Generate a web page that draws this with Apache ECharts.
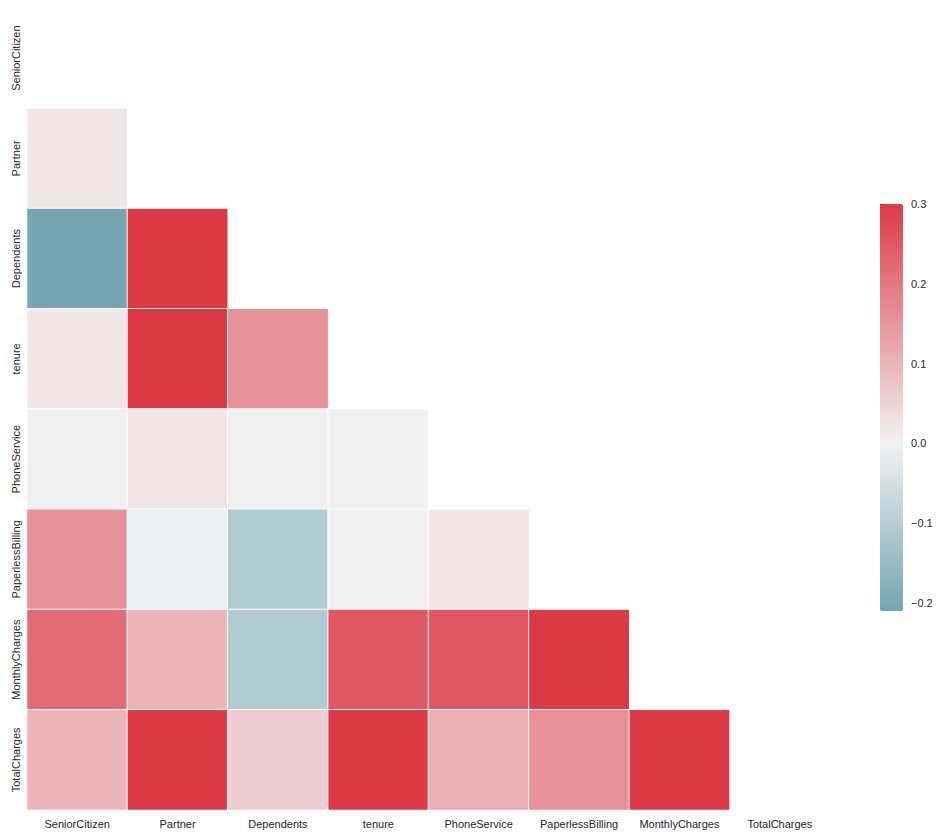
<!DOCTYPE html>
<html>
<head>
<meta charset="utf-8">
<script src="https://cdn.jsdelivr.net/npm/echarts@6/dist/echarts.min.js"></script>
<style>html,body{margin:0;background:#fff}#main{width:939px;height:837px}</style>
</head>
<body>
<div id="main"></div>
<script>
let labels = ["SeniorCitizen", "Partner", "Dependents", "tenure", "PhoneService", "PaperlessBilling", "MonthlyCharges", "TotalCharges"];
// lower triangle, row by row (row i has i values)
let rows = [
  [],
  [0.02],
  [-0.21, 0.45],
  [0.02, 0.38, 0.16],
  [0.00, 0.02, -0.00, 0.00],
  [0.16, -0.01, -0.11, 0.00, 0.02],
  [0.22, 0.10, -0.11, 0.25, 0.25, 0.35],
  [0.10, 0.32, 0.06, 0.83, 0.11, 0.16, 0.65],
];
let cbTicks = [-0.2, -0.1, 0.0, 0.1, 0.2, 0.3];

let vmin = -0.21, vmax = 0.3;

// colour map: blue -> grey (center 0) -> red, over [-0.3, 0.3]
let cBlue = [63, 132, 152], cMid = [242, 242, 242], cRed = [220, 58, 71];
let cmap = (v) => {
  let t = Math.max(-1, Math.min(1, v / 0.3));
  let a = t < 0 ? cBlue : cRed, f = Math.abs(t);
  let c = cMid.map((m, k) => Math.round(m + f * (a[k] - m)));
  return `rgb(${c.join(",")})`;
};
let stops = [];
for (let i = 0; i <= 60; i++) stops.push(cmap(vmin + (vmax - vmin) * i / 60));

let data = [];
rows.forEach((r, i) => r.forEach((v, j) => data.push([j, i, v])));

let chart = echarts.init(document.getElementById("main"), null, { renderer: "svg" });
let font = "Liberation Sans, Arial, sans-serif";
chart.setOption({
  animation: false,
  textStyle: { fontFamily: font },
  grid: [
    { left: 27, right: 109, top: 8, bottom: 27 },
    { left: 880, width: 23, top: 204, height: 407 },
  ],
  xAxis: [
    { type: "category", data: labels, gridIndex: 0, axisLine: { show: false }, axisTick: { show: false },
      axisLabel: { color: "#262626", fontSize: 11, interval: 0 }, splitLine: { show: false } },
    { type: "value", gridIndex: 1, show: false },
  ],
  yAxis: [
    { type: "category", data: labels, gridIndex: 0, inverse: true, axisLine: { show: false }, axisTick: { show: false },
      axisLabel: { color: "#262626", fontSize: 11, rotate: 90, interval: 0, margin: 6 }, splitLine: { show: false } },
    { type: "value", gridIndex: 1, position: "right", min: vmin, max: vmax,
      axisLine: { show: false }, splitLine: { show: false },
      axisTick: { show: true, length: 4, lineStyle: { color: "#262626" }, customValues: cbTicks },
      axisLabel: { color: "#262626", fontSize: 11, customValues: cbTicks, formatter: (v) => v.toFixed(1).replace("-", "\u2212") } },
  ],
  visualMap: {
    type: "continuous", min: vmin, max: vmax, seriesIndex: 0, calculable: false,
    right: 36, top: 204, padding: 0, itemWidth: 23, itemHeight: 407, showLabel: false,
    inRange: { color: stops }, outOfRange: { color: cmap(0.3) },
  },
  series: [{
    type: "heatmap", data: data, xAxisIndex: 0, yAxisIndex: 0,
    itemStyle: { borderColor: "#fff", borderWidth: 1 },
    emphasis: { disabled: true },
  }],
});
</script>
</body>
</html>
